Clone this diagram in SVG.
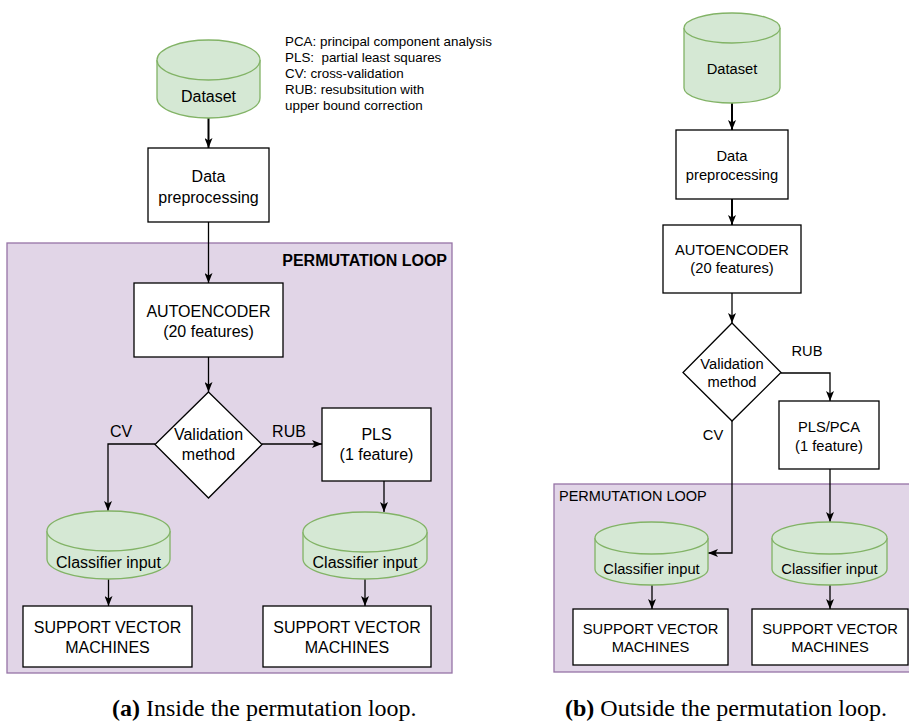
<svg xmlns="http://www.w3.org/2000/svg" width="909" height="724" viewBox="0 0 909 724">
<style>
text{font-family:"Liberation Sans",Arial,sans-serif;fill:#000}
.a{font-size:16px;text-anchor:middle}
.b{font-size:14.7px;text-anchor:middle}
.lg{font-size:13.4px}
.box{fill:#fff;stroke:#000;stroke-width:1.3}
.cyl{fill:#d5e8d4;stroke:#82b366;stroke-width:1.3}
.loop{fill:#e1d5e7;stroke:#9673a6;stroke-width:1.3}
.c{fill:none;stroke:#000;stroke-width:1.3}
.t{fill:none;stroke:#000;stroke-width:2}
.cap{font-family:"Liberation Serif","Times New Roman",serif;font-size:24px}
</style>
<defs>
<marker id="ar" viewBox="0 0 10 8" refX="10" refY="4" markerWidth="10" markerHeight="8" markerUnits="userSpaceOnUse" orient="auto">
<path d="M0,0 L10,4 L0,8 L2.5,4 z" fill="#000"/>
</marker>
</defs>

<!-- panel (a) -->
<rect id="loopA" class="loop" x="7" y="243" width="445" height="430"/>
<text x="447" y="265.7" style="font-size:16px;font-weight:bold;text-anchor:end">PERMUTATION LOOP</text>

<g id="legend">
<text class="lg" x="285" y="45.8">PCA: principal component analysis</text>
<text class="lg" x="285" y="61.8">PLS:&#160; partial least squares</text>
<text class="lg" x="285" y="77.8">CV: cross-validation</text>
<text class="lg" x="285" y="93.8">RUB: resubsitution with</text>
<text class="lg" x="285" y="109.8">upper bound correction</text>
</g>

<g id="connectorsA">
<path class="t" d="M208.5,118 V148" marker-end="url(#ar)"/>
<path class="c" d="M208.5,222 V283" marker-end="url(#ar)"/>
<path class="c" d="M208.5,357 V392" marker-end="url(#ar)"/>
<path class="c" d="M155,444 H108 V511" marker-end="url(#ar)"/>
<path class="c" d="M262,444 H322" marker-end="url(#ar)"/>
<path class="c" d="M384,481 V512" marker-end="url(#ar)"/>
<path class="c" d="M108.5,579 V606" marker-end="url(#ar)"/>
<path class="c" d="M365,579 V606" marker-end="url(#ar)"/>
<text class="a" x="121" y="436.7">CV</text>
<text class="a" x="289" y="436.7">RUB</text>
</g>

<g id="datasetA">
<path class="cyl" d="M157,60 A51.5,20 0 0 1 260,60 V98 A51.5,20 0 0 1 157,98 Z"/>
<path class="cyl" d="M157,60 A51.5,20 0 0 0 260,60" fill="none"/>
<text class="a" x="208.5" y="101.7">Dataset</text>
</g>
<g id="preprocA">
<rect class="box" x="148" y="148" width="121" height="74"/>
<text class="a" x="208.5" y="181.7">Data</text>
<text class="a" x="208.5" y="202.7">preprocessing</text>
</g>
<g id="autoencA">
<rect class="box" x="134" y="283" width="149" height="74"/>
<text class="a" x="208.5" y="316.7">AUTOENCODER</text>
<text class="a" x="208.5" y="336.7">(20 features)</text>
</g>
<g id="validA">
<path class="box" d="M208.5,392 L262,444.5 L208.5,498 L155,444.5 Z"/>
<text class="a" x="208.5" y="439.7">Validation</text>
<text class="a" x="208.5" y="459.7">method</text>
</g>
<g id="plsA">
<rect class="box" x="322" y="408" width="109" height="73"/>
<text class="a" x="376.5" y="439.7">PLS</text>
<text class="a" x="376.5" y="459.7">(1 feature)</text>
</g>
<g id="classInA1">
<path class="cyl" d="M47,531 A61.5,20 0 0 1 170,531 V559 A61.5,20 0 0 1 47,559 Z"/>
<path class="cyl" d="M47,531 A61.5,20 0 0 0 170,531" fill="none"/>
<text class="a" x="108.5" y="567.7">Classifier input</text>
</g>
<g id="classInA2">
<path class="cyl" d="M303,532 A62,20 0 0 1 427,532 V559 A62,20 0 0 1 303,559 Z"/>
<path class="cyl" d="M303,532 A62,20 0 0 0 427,532" fill="none"/>
<text class="a" x="365" y="567.7">Classifier input</text>
</g>
<g id="svmA1">
<rect class="box" x="23" y="606" width="169" height="61"/>
<text class="a" x="107.5" y="632.7">SUPPORT VECTOR</text>
<text class="a" x="107.5" y="652.7">MACHINES</text>
</g>
<g id="svmA2">
<rect class="box" x="263" y="606" width="168" height="61"/>
<text class="a" x="347" y="632.7">SUPPORT VECTOR</text>
<text class="a" x="347" y="652.7">MACHINES</text>
</g>

<!-- panel (b) -->
<rect id="loopB" class="loop" x="554" y="484" width="365" height="188"/>
<text x="559" y="501.3" style="font-size:14.5px">PERMUTATION LOOP</text>

<g id="connectorsB">
<path class="t" d="M732,103 V130" marker-end="url(#ar)"/>
<path class="t" d="M732,199 V225" marker-end="url(#ar)"/>
<path class="c" d="M732,293 V323" marker-end="url(#ar)"/>
<path class="c" d="M781,373 H830 V401" marker-end="url(#ar)"/>
<path class="c" d="M732,421 V553 H708" marker-end="url(#ar)"/>
<path class="c" d="M830,469 V522" marker-end="url(#ar)"/>
<path class="c" d="M652,585 V609" marker-end="url(#ar)"/>
<path class="c" d="M830,585 V609" marker-end="url(#ar)"/>
<text class="b" x="807" y="356.3">RUB</text>
<text class="b" x="713" y="440.3">CV</text>
</g>

<g id="datasetB">
<path class="cyl" d="M684,28 A48,15 0 0 1 780,28 V88 A48,15 0 0 1 684,88 Z"/>
<path class="cyl" d="M684,28 A48,15 0 0 0 780,28" fill="none"/>
<text class="b" x="732" y="74.3">Dataset</text>
</g>
<g id="preprocB">
<rect class="box" x="676" y="130" width="112" height="69"/>
<text class="b" x="732" y="161.3">Data</text>
<text class="b" x="732" y="180.3">preprocessing</text>
</g>
<g id="autoencB">
<rect class="box" x="663" y="225" width="138" height="68"/>
<text class="b" x="732" y="255.3">AUTOENCODER</text>
<text class="b" x="732" y="273.3">(20 features)</text>
</g>
<g id="validB">
<path class="box" d="M732,323 L781,372.5 L732,421 L683,372.5 Z"/>
<text class="b" x="732" y="369.3">Validation</text>
<text class="b" x="732" y="387.3">method</text>
</g>
<g id="plsB">
<rect class="box" x="779" y="401" width="100" height="68"/>
<text class="b" x="829" y="432.3">PLS/PCA</text>
<text class="b" x="829" y="451.3">(1 feature)</text>
</g>
<g id="classInB1">
<path class="cyl" d="M595,538 A56.5,16 0 0 1 708,538 V569 A56.5,16 0 0 1 595,569 Z"/>
<path class="cyl" d="M595,538 A56.5,16 0 0 0 708,538" fill="none"/>
<text class="b" x="651.5" y="574.3">Classifier input</text>
</g>
<g id="classInB2">
<path class="cyl" d="M772,538 A57.5,16 0 0 1 887,538 V569 A57.5,16 0 0 1 772,569 Z"/>
<path class="cyl" d="M772,538 A57.5,16 0 0 0 887,538" fill="none"/>
<text class="b" x="829.5" y="574.3">Classifier input</text>
</g>
<g id="svmB1">
<rect class="box" x="573" y="609" width="155" height="56"/>
<text class="b" x="650.5" y="634.3">SUPPORT VECTOR</text>
<text class="b" x="650.5" y="652.3">MACHINES</text>
</g>
<g id="svmB2">
<rect class="box" x="752" y="609" width="156" height="56"/>
<text class="b" x="830" y="634.3">SUPPORT VECTOR</text>
<text class="b" x="830" y="652.3">MACHINES</text>
</g>

<text class="cap" x="112" y="716"><tspan font-weight="bold">(a)</tspan> Inside the permutation loop.</text>
<text class="cap" x="565" y="716"><tspan font-weight="bold">(b)</tspan> Outside the permutation loop.</text>
</svg>
